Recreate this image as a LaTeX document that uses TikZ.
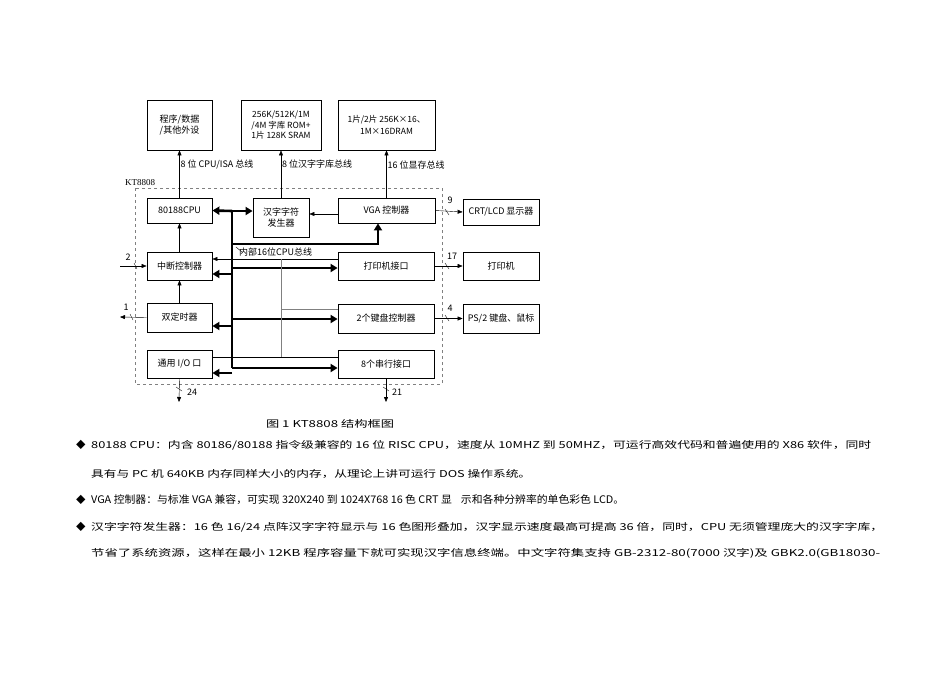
\documentclass[tikz,border=0pt]{standalone}
\usepackage{fontspec}
\usepackage{graphicx}
\setmainfont{Liberation Serif}
\newfontfamily\cjk{Noto Sans CJK SC}
\usetikzlibrary{arrows.meta}
\begin{document}
\begin{tikzpicture}[x=1pt,y=-1pt,
  bx/.style={draw,thick,minimum width=#1,inner sep=0pt,font=\cjk\fontsize{9}{11}\selectfont,align=center},
  bx/.default=65pt,
  th/.style={line width=2.6pt,-{Triangle[length=7pt,width=8pt]}},
  tn/.style={-{Triangle[length=5pt,width=4pt]}},
  lb/.style={font=\cjk\fontsize{9}{11}\selectfont,inner sep=1pt},
  txt/.style={font=\cjk\fontsize{9.5}{11}\selectfont,anchor=west,inner sep=0pt}]
\useasboundingbox (0,0) rectangle (950,672);
\draw[dashed,gray] (135,188) rectangle (442,384);
\node[lb,anchor=south west,font=\rmfamily\fontsize{9}{10}\selectfont] (kt) at (124,187) {KT8808};
% top boxes
\node[bx=65pt,minimum height=50pt] (prog) at (179.5,125) {程序/数据\\/其他外设};
\node[bx=80pt,minimum height=50pt,font=\cjk\fontsize{8.5}{10.5}\selectfont] (rom) at (281,125) {256K/512K/1M\\/4M 字库 ROM+\\1片 128K SRAM};
\node[bx=97pt,minimum height=50pt,font=\cjk\fontsize{8.5}{12}\selectfont] (dram) at (386.5,125) {1片/2片 256K×16、\\1M×16DRAM};
% inner boxes
\node[bx=65pt,minimum height=25pt] (cpu) at (179.5,210.5) {80188CPU};
\node[bx=56pt,minimum height=39pt] (hz) at (281,217.5) {汉字字符\\发生器};
\node[bx=97pt,minimum height=25pt] (vga) at (386.5,210.5) {VGA 控制器};
\node[bx=65pt,minimum height=28pt] (int) at (179.5,266) {中断控制器};
\node[bx=96pt,minimum height=28pt] (pif) at (386,266) {打印机接口};
\node[bx=65pt,minimum height=29pt] (tim) at (179.5,317.5) {双定时器};
\node[bx=96pt,minimum height=29pt] (kbd) at (386,318.5) {2个键盘控制器};
\node[bx=65pt,minimum height=28pt] (io) at (179.5,364) {通用 I/O 口};
\node[bx=96pt,minimum height=28pt] (ser) at (386,364) {8个串行接口};
% outer right
\node[bx=76pt,minimum height=26pt] (crt) at (501,212) {CRT/LCD 显示器};
\node[bx=76pt,minimum height=28pt] (prn) at (501,266) {打印机};
\node[bx=76pt,minimum height=29pt] (ps2) at (501,318.5) {PS/2 键盘、鼠标};
% vertical buses
\draw[tn,{Triangle[length=5pt,width=4pt]}-] (prog.south) -- (cpu.north) node[lb,pos=0.3,right] {8 位 CPU/ISA 总线};
\draw[tn,{Triangle[length=5pt,width=4pt]}-] (rom.south) -- (hz.north) node[lb,pos=0.3,right] {8 位汉字字库总线};
\draw[tn,{Triangle[length=5pt,width=4pt]}-] (dram.south) -- (vga.north) node[lb,pos=0.3,right] {16 位显存总线};
% internal bus
\coordinate (bt) at (232,211);
\coordinate (bb) at (232,368);
\draw[line width=2.6pt] (bt) -- (bb);
\draw[th] (bt) -- (cpu.east);
\draw[th] (bt) -- (hz.west|-bt);
\draw[line width=2.6pt,-{Triangle[length=7pt,width=8pt]}] (232,244) -| (vga.south-|378,0);
\draw[th] (232,268) -- (pif.west|-0,268);
\draw[th] (232,319) -- (kbd.west|-0,319);
\draw[th] (232,368) -- (ser.west|-0,368);
\draw[th] (232,274) -- (int.east|-0,274);
\draw[th] (232,326) -- (tim.east|-0,326);
\draw[th] (232,373) -- (io.east|-0,373);
\draw[tn,{Triangle[length=5pt,width=4pt]}-] (hz.east|-0,214) -- (vga.west|-0,214);
% thin lines
\draw[tn] (pif.west|-0,259) -- (int.east|-0,259);
\draw[gray] (281,259) -- (281,357);
\draw[gray] (281,309) -- (kbd.west|-0,309);
\draw (io.east|-0,357) -- (ser.west|-0,357);
\draw[tn] (int.north) -- (cpu.south);
\draw[tn] (tim.north) -- (int.south);
\draw (236,247) -- (242,252);
\node[lb,anchor=west] (ib) at (238,252) {内部16位CPU总线};
% external io
\coordinate (i2) at (120,266);
\draw[tn] (i2) -- (int.west);
\draw (134,263) -- (137,269);
\node[lb,anchor=south] (n2) at (128,262) {2};
\coordinate (o1) at (120,317);
\draw[tn] (tim.west) -- (o1);
\draw (130,314) -- (133,320);
\node[lb,anchor=south] (n1) at (126,312) {1};
\draw[tn] (vga.east) -- (crt.west); \draw (445,209) -- (449,215); \node[lb,anchor=south] (n9) at (450,205) {9};
\draw[tn] (pif.east) -- (prn.west); \draw (445,263) -- (449,269); \node[lb,anchor=south] (n17) at (452,261) {17};
\draw[tn] (kbd.east) -- (ps2.west); \draw (445,315) -- (449,321); \node[lb,anchor=south] (n4) at (450,313) {4};
\coordinate (d24) at (179,402);
\draw[tn] (io.south) -- (d24); \draw (176,387) -- (182,391); \node[lb,anchor=west] (n24) at (186,392) {24};
\coordinate (d21) at (386,402);
\draw[tn] (ser.south) -- (d21); \draw (383,387) -- (389,391); \node[lb,anchor=west] (n21) at (391,392) {21};
% caption and text
\node[font=\cjk\fontsize{9.5}{11}\selectfont] (cap) at (330,424) {\resizebox{128pt}{\height}{图 1 KT8808 结构框图}};
\node[txt] (d1) at (76,445) {◆};
\node[txt] (b1) at (91,445) {\resizebox{780pt}{\height}{80188 CPU：内含 80186/80188 指令级兼容的 16 位 RISC CPU，速度从 10MHZ 到 50MHZ，可运行高效代码和普遍使用的 X86 软件，同时}};
\node[txt] (b1b) at (91,474) {\resizebox{440pt}{\height}{具有与 PC 机 640KB 内存同样大小的内存，从理论上讲可运行 DOS 操作系统。}};
\node[txt] (d2) at (76,500) {◆};
\node[txt] (b2) at (91,500) {\resizebox{533pt}{1.1\height}{VGA 控制器：与标准 VGA 兼容，可实现 320X240 到 1024X768 16 色 CRT 显\hspace{8pt}示和各种分辨率的单色彩色 LCD。}};
\node[txt] (d3) at (76,527) {◆};
\node[txt] (b3) at (91,527) {\resizebox{792pt}{\height}{汉字字符发生器：16 色 16/24 点阵汉字字符显示与 16 色图形叠加，汉字显示速度最高可提高 36 倍，同时，CPU 无须管理庞大的汉字字库，}};
\node[txt] (b3b) at (91,553) {\resizebox{789pt}{\height}{节省了系统资源，这样在最小 12KB 程序容量下就可实现汉字信息终端。中文字符集支持 GB-2312-80(7000 汉字)及 GBK2.0(GB18030-}};
\end{tikzpicture}
\end{document}
